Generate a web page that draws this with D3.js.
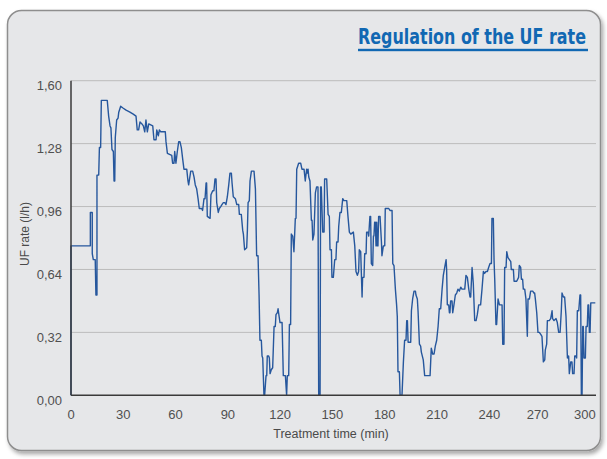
<!DOCTYPE html>
<html><head><meta charset="utf-8">
<script src="https://cdn.jsdelivr.net/npm/d3@7"></script>
<style>
html,body{margin:0;padding:0;background:#fff;}
svg{display:block;}
</style></head>
<body>
<svg id="chart" width="607" height="459"></svg>
<script>
// ---- data ----
const title = "Regulation of the UF rate";
const xTitle = "Treatment time (min)";
const yTitle = "UF rate (l/h)";
const xTicks = [0, 30, 60, 90, 120, 150, 180, 210, 240, 270, 300];
const yTicks = [0, 0.32, 0.64, 0.96, 1.28, 1.60];
const times = [0,0,11.1,11.1,12.2,12.2,12.8,13.9,14.3,14.9,14.9,15.9,16.3,17.0,17.4,20.8,21.6,22.4,22.9,23.5,24.3,24.7,25.1,25.4,26.2,27.0,27.4,28.5,30.0,31.6,33.8,35.7,37.3,38.0,38.8,39.6,40.7,41.5,42.3,43.0,43.8,44.6,46.9,47.6,48.8,49.2,50.1,50.7,51.5,54.1,54.5,55.3,57.8,58.3,59.1,59.5,60.2,61.0,61.8,62.5,63.3,64.1,64.8,66.4,67.1,67.5,68.7,69.8,70.6,71.3,72.1,72.9,73.6,75.0,75.5,76.3,76.9,77.5,77.8,78.2,79.8,80.3,81.3,82.0,82.6,83.2,83.6,84.5,85.1,85.9,86.6,87.4,88.2,88.9,89.7,90.5,91.2,92.0,92.4,93.1,94.3,95.1,96.2,96.6,97.7,98.5,98.9,99.6,100.8,101.2,101.6,102.3,102.7,103.5,105.0,105.8,106.5,107.3,107.9,108.4,109.2,109.6,110.0,110.7,111.1,111.9,112.3,112.6,113.4,113.8,114.2,114.9,115.7,116.5,117.2,117.6,118.4,118.8,119.1,119.9,121.1,121.8,123.0,123.7,124.1,124.9,125.3,126.0,126.4,127.2,127.9,128.7,129.1,129.5,130.6,131.8,132.5,133.7,134.4,135.2,135.6,136.0,136.4,137.1,137.9,138.3,138.7,139.4,140.2,140.9,141.7,142.1,142.9,143.2,143.6,144.4,145.2,145.5,146.7,147.5,148.2,148.6,149.4,149.7,150.5,151.3,152.0,152.4,153.2,153.6,154.3,155.1,155.9,156.6,158.2,158.9,159.7,160.5,162.0,162.8,163.5,164.3,165.0,165.4,166.2,167.0,167.3,168.1,168.5,169.3,169.6,170.4,170.8,171.5,171.9,172.3,173.1,173.5,173.8,174.2,174.6,175.0,175.4,175.8,176.1,176.5,177.3,178.1,178.4,179.2,180.0,180.3,182.3,183.0,184.2,184.6,185.3,186.1,186.8,187.2,187.6,188.4,188.8,189.9,190.7,191.4,192.2,192.6,193.0,193.4,194.9,195.3,196.0,196.8,197.6,197.9,198.7,199.1,199.9,200.6,201.0,202.1,202.9,206.0,206.7,207.5,208.3,209.0,209.8,210.6,211.3,212.1,212.9,213.6,214.4,215.2,215.5,215.9,216.7,217.1,217.4,217.8,218.6,219.0,219.7,220.5,221.3,222.0,222.8,223.6,224.3,225.9,226.6,227.4,228.2,228.9,229.3,230.1,230.8,231.6,232.4,233.1,233.9,235.0,235.8,236.6,237.3,238.1,238.9,239.6,240.4,241.2,241.5,242.3,242.7,243.1,243.8,244.2,245.0,245.8,247.3,247.7,248.4,248.8,249.6,250.0,250.7,251.5,252.3,252.6,253.8,254.2,255.7,256.8,257.2,258.0,258.4,259.1,259.5,260.3,261.0,261.8,262.2,263.0,263.7,264.9,265.6,266.0,266.4,267.2,267.9,268.7,269.5,270.2,271.0,271.8,272.1,272.9,273.3,274.4,275.2,276.0,276.3,277.1,278.3,279.0,279.8,280.6,281.3,281.7,282.5,283.2,284.0,284.8,285.5,285.9,286.7,287.4,287.8,288.6,289.0,289.7,290.1,290.5,291.3,292.0,292.4,292.8,293.2,293.6,293.9,294.3,295.1,295.5,296.2,296.6,297.0,297.4,297.8,298.2,300.8];
const ufRate = [0,0.76,0.76,0.93,0.93,0.72,0.69,0.69,0.51,0.51,1.12,1.12,1.26,1.26,1.50,1.50,1.42,1.37,1.36,1.25,1.24,1.09,1.09,1.31,1.40,1.41,1.44,1.47,1.46,1.45,1.44,1.43,1.42,1.35,1.35,1.39,1.38,1.37,1.34,1.40,1.34,1.38,1.37,1.30,1.30,1.35,1.32,1.35,1.34,1.34,1.29,1.23,1.22,1.18,1.18,1.24,1.18,1.24,1.29,1.29,1.26,1.20,1.15,1.15,1.09,1.07,1.14,1.14,1.11,1.07,1.05,1.00,0.95,0.95,0.94,1.00,1.00,1.08,1.08,0.91,0.90,1.02,1.04,1.04,1.10,1.10,0.98,0.93,0.95,0.96,0.97,0.98,0.98,0.97,1.01,1.07,1.13,1.13,1.08,1.01,1.00,0.97,0.97,0.92,0.92,0.84,0.82,0.74,0.75,0.84,0.98,0.99,1.09,1.14,1.14,1.05,0.71,0.71,0.51,0.28,0.28,0.20,0.19,0,0,0.10,0.10,0.20,0.20,0.19,0.11,0.13,0.14,0.35,0.35,0.41,0.42,0.44,0.42,0.37,0.37,0.10,0.10,0,0.10,0.10,0.36,0.36,0.82,0.81,0.73,0.90,0.90,1.15,1.18,1.18,1.15,1.15,1.09,1.15,1.13,1.15,1.11,1.09,0.89,0.89,0.79,0.82,1.03,1.06,1.06,0,0,1.06,1.06,0.83,0.83,1.10,1.10,0.92,0.91,0.74,0.74,0.60,0.60,0.69,0.69,0.78,0.78,0.86,0.93,0.93,1.00,0.99,0.99,0.91,0.83,0.82,0.83,0.76,0.63,0.61,0.63,0.74,0.73,0.50,0.60,0.60,0.72,0.72,0.83,0.83,0.81,0.91,0.91,0.67,0.66,0.81,0.81,0.88,0.88,0.76,0.88,0.76,0.76,0.91,0.91,0.78,0.71,0.76,0.76,0.95,0.95,0.94,0.94,0.67,0.66,0.54,0.46,0.40,0.12,0.12,0,0,0.17,0.28,0.28,0.38,0.38,0.27,0.27,0.43,0.49,0.53,0.53,0.51,0.49,0.43,0.26,0.25,0.22,0.18,0.10,0.10,0.24,0.21,0.21,0.25,0.28,0.35,0.44,0.44,0.54,0.61,0.65,0.69,0.64,0.46,0.46,0.42,0.42,0.48,0.48,0.42,0.46,0.51,0.52,0.54,0.53,0.55,0.54,0.54,0.61,0.60,0.54,0.50,0.50,0.65,0.57,0.38,0.38,0.41,0.46,0.46,0.54,0.63,0.62,0.63,0.63,0.65,0.67,0.67,0.90,0.90,0.69,0.59,0.36,0.36,0.49,0.46,0.46,0.26,0.26,0.65,0.65,0.73,0.70,0.69,0.68,0.64,0.64,0.58,0.58,0.60,0.66,0.65,0.59,0.59,0.54,0.54,0.49,0.30,0.49,0.49,0.53,0.53,0.52,0.52,0.49,0.42,0.32,0.32,0.31,0.30,0.17,0.18,0.23,0.26,0.38,0.38,0.39,0.43,0.39,0.38,0.39,0.37,0.32,0.32,0.43,0.52,0.50,0.50,0.40,0.19,0.20,0.11,0.17,0.17,0.11,0.11,0.20,0.20,0.19,0.43,0.43,0.51,0.51,0,0,0.35,0.35,0.19,0.19,0.35,0.35,0.46,0.46,0.32,0.32,0.47,0.47];

// ---- drawing ----
const svg = d3.select("#chart");
const defs = svg.append("defs");
const f = defs.append("filter").attr("id","shadow").attr("x","-5%").attr("y","-5%").attr("width","112%").attr("height","112%");
f.append("feDropShadow").attr("dx",2).attr("dy",3).attr("stdDeviation",2).attr("flood-color","#000").attr("flood-opacity",0.35);

svg.append("rect").attr("x",7.5).attr("y",10.5).attr("width",593).attr("height",440).attr("rx",14)
  .attr("fill","#e6e7e9").attr("stroke","#8e8e8e").attr("stroke-width",1.5).attr("filter","url(#shadow)");

const x = d3.scaleLinear().domain([0, 301.2]).range([71, 596]);
const y = d3.scaleLinear().domain([0, 1.6]).range([395.3, 80.7]);
const font = "'Liberation Sans', Arial, sans-serif";
const fmt = v => d3.format(".2f")(v).replace(".", ",");

// gridlines
svg.append("g").selectAll("line").data(yTicks.filter(d => d > 0)).join("line")
  .attr("x1", x.range()[0]).attr("x2", x.range()[1])
  .attr("y1", d => y(d)).attr("y2", d => y(d))
  .attr("stroke", "#bcbcbc").attr("stroke-width", 1);

// y tick labels
svg.append("g").selectAll("text").data(yTicks).join("text")
  .attr("x", 62).attr("y", d => y(d) + 9.7)
  .attr("text-anchor", "end").attr("font-family", font).attr("font-size", 13)
  .attr("fill", "#505050").text(fmt);

// x tick labels
const xNudge = {270: -4, 300: -9};
svg.append("g").selectAll("text").data(xTicks).join("text")
  .attr("x", d => x(d) + (xNudge[d] || 0)).attr("y", 418.7)
  .attr("text-anchor", "middle").attr("font-family", font).attr("font-size", 13)
  .attr("fill", "#505050").text(d => d);

// data line
const line = d3.line().x((d, i) => x(times[i])).y(d => y(d));
svg.append("path").datum(ufRate).attr("d", line)
  .attr("fill", "none").attr("stroke", "#26579d").attr("stroke-width", 1.4)
  .attr("stroke-linejoin", "round");

// axes
svg.append("line").attr("x1", x.range()[0]).attr("x2", x.range()[1])
  .attr("y1", y(0)).attr("y2", y(0)).attr("stroke", "#3a3a3a").attr("stroke-width", 1.5);
svg.append("line").attr("x1", x(0)).attr("x2", x(0))
  .attr("y1", y(0)).attr("y2", y(1.6)).attr("stroke", "#3a3a3a").attr("stroke-width", 1.5);

// axis titles
svg.append("text").attr("x", 331).attr("y", 437.5).attr("text-anchor", "middle")
  .attr("font-family", font).attr("font-size", 12.5).attr("fill", "#4a4a4a").text(xTitle);
svg.append("text").attr("transform", "translate(29,234) rotate(-90)").attr("text-anchor", "middle")
  .attr("font-family", font).attr("font-size", 12).attr("fill", "#4a4a4a").text(yTitle);

// title (condensed look via vertical stretch)
svg.append("text").attr("transform", "translate(358,43.5) scale(1,1.32)")
  .attr("font-family", "'Liberation Sans Narrow', 'DejaVu Sans Condensed', 'Liberation Sans', sans-serif")
  .attr("font-weight", "bold").attr("font-size", 16).attr("fill", "#1168b3")
  .attr("textLength", 228).attr("lengthAdjust", "spacingAndGlyphs").text(title);
svg.append("rect").attr("x", 358).attr("y", 48.8).attr("width", 230).attr("height", 2.4).attr("fill", "#1168b3");
</script>
</body></html>
